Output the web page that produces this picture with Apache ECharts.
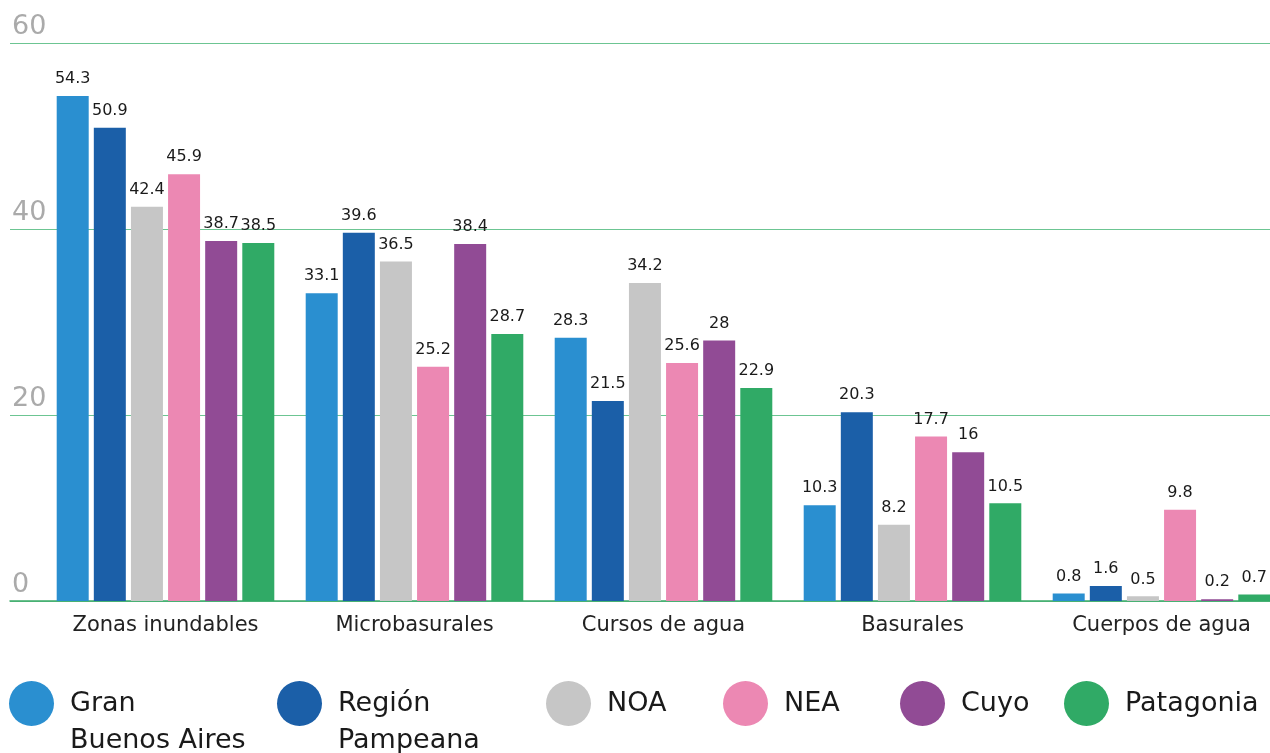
<!DOCTYPE html>
<html lang="es">
<head>
  <meta charset="UTF-8">
  <title>Basurales y zonas</title>
  <script src="https://cdn.jsdelivr.net/npm/echarts@6/dist/echarts.min.js"></script>
  <style>body{margin:0;background:#fff;}</style>
</head>
<body>
  <div id="main" style="width:1270px;height:753px;"></div>
  <script type="text/javascript">
    const categories = ['Zonas inundables', 'Microbasurales', 'Cursos de agua', 'Basurales', 'Cuerpos de agua'];
    const seriesNames = ['Gran\nBuenos Aires', 'Región\nPampeana', 'NOA', 'NEA', 'Cuyo', 'Patagonia'];
    const granBuenosAires = [54.3, 33.1, 28.3, 10.3, 0.8];
    const regionPampeana = [50.9, 39.6, 21.5, 20.3, 1.6];
    const noa = [42.4, 36.5, 34.2, 8.2, 0.5];
    const nea = [45.9, 25.2, 25.6, 17.7, 9.8];
    const cuyo = [38.7, 38.4, 28, 16, 0.2];
    const patagonia = [38.5, 28.7, 22.9, 10.5, 0.7];
    const yTicks = [0, 20, 40, 60];

    const colors = ['#2a8fd0', '#1b5fa8', '#c6c6c6', '#ec88b3', '#914b95', '#30aa66'];
    const allData = [granBuenosAires, regionPampeana, noa, nea, cuyo, patagonia];
    const font = 'DejaVu Sans';

    let myChart = echarts.init(document.getElementById('main'));

    // one legend per item so each can sit where the original puts it
    const legendLeft = [9, 277, 546, 723, 900, 1064];
    const legends = seriesNames.map((name, i) => {
      const twoLine = name.indexOf('\n') >= 0;
      return {
        data: [name],
        left: legendLeft[i],
        top: twoLine ? 648 : 681,
        padding: 0,
        icon: 'circle',
        itemWidth: 45,
        itemHeight: 45,
        itemGap: 0,
        selectedMode: false,
        // a blank first line keeps the first word level with the dot
        formatter: n => (n.indexOf('\n') >= 0 ? ' \n' + n : n),
        textStyle: {
          fontFamily: font,
          fontSize: 27,
          color: '#1a1a1a',
          lineHeight: 37,
          padding: [0, 0, 0, 11]
        }
      };
    });

    let options = {
      animation: false,
      color: colors,
      legend: legends,
      // grid 0 holds the bars, grid 1 only the gridlines / y labels
      grid: [
        { left: 41, width: 1245, top: 43, bottom: 152, outerBoundsMode: 'none' },
        { left: 10, right: 0, top: 43, bottom: 152, outerBoundsMode: 'none' }
      ],
      xAxis: [
        {
          type: 'category',
          gridIndex: 0,
          data: categories,
          axisLine: { show: false },
          axisTick: { show: false },
          splitLine: { show: false },
          axisLabel: { fontFamily: font, fontSize: 21, color: '#222', margin: 14 }
        },
        {
          type: 'category',
          gridIndex: 1,
          data: [''],
          axisLine: { show: true, lineStyle: { color: '#3daa6a', width: 1.5 } },
          axisTick: { show: false },
          splitLine: { show: false },
          axisLabel: { show: false }
        }
      ],
      yAxis: [
        {
          type: 'value',
          gridIndex: 0,
          min: 0,
          max: 60,
          show: false,
          splitLine: { show: false }
        },
        {
          type: 'value',
          gridIndex: 1,
          min: yTicks[0],
          max: yTicks[yTicks.length - 1],
          interval: 20,
          axisLine: { show: false },
          axisTick: { show: false },
          splitLine: { show: true, lineStyle: { color: '#6cc592', width: 1 } },
          axisLabel: {
            inside: true,
            margin: 2,
            verticalAlign: 'bottom',
            padding: [0, 0, 3, 0],
            fontFamily: font,
            fontSize: 27,
            color: '#aaaaaa'
          }
        }
      ],
      series: allData.map((vals, i) => ({
        name: seriesNames[i],
        type: 'bar',
        xAxisIndex: 0,
        yAxisIndex: 0,
        data: vals,
        barWidth: 32,
        barGap: '16%',
        itemStyle: { color: colors[i] },
        label: {
          show: true,
          position: 'top',
          distance: 9,
          fontFamily: font,
          fontSize: 16,
          color: '#1a1a1a',
          letterSpacing: -1
        }
      }))
    };

    myChart.setOption(options);
  </script>
</body>
</html>
